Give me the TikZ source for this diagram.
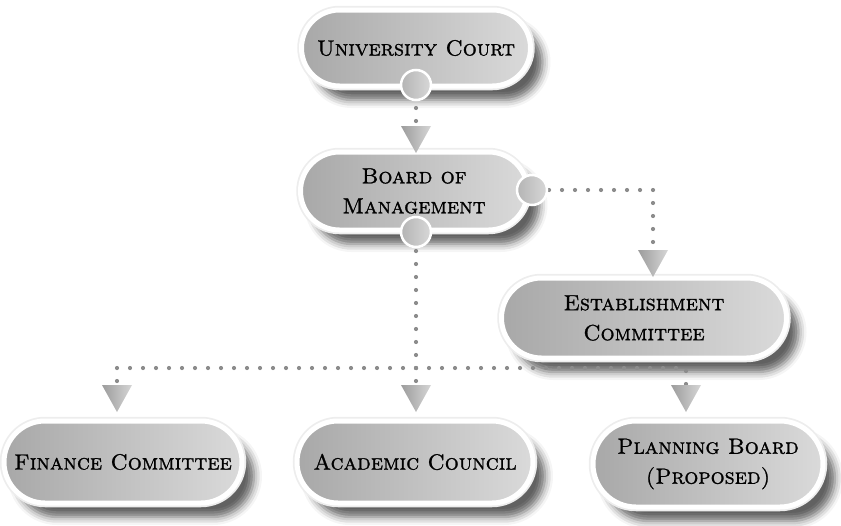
\documentclass[tikz,border=0pt]{standalone}
\usepackage{fontspec}
\newfontfamily\boxfont{lmromancaps10-regular.otf}[RawFeature={embolden=1.1}]
\usetikzlibrary{shapes.misc,shadows.blur}
\definecolor{dotgray}{HTML}{8C8C8C}
\definecolor{pillL}{HTML}{A8A8A8}
\definecolor{pillR}{HTML}{DADADA}
\definecolor{triL}{HTML}{9C9C9C}
\definecolor{triR}{HTML}{D6D6D6}
\definecolor{knobL}{HTML}{B4B4B4}
\definecolor{knobR}{HTML}{D8D8D8}
\begin{document}
\begin{tikzpicture}[x=1pt,y=-1pt,
  pill/.style={rounded rectangle,
    blur shadow={shadow xshift=12pt, shadow yshift=-14pt, shadow blur radius=8pt, shadow opacity=62},
    preaction={draw=black!7, line width=8.5pt},
    draw=white, line width=5pt, left color=pillL, right color=pillR,
    text=black, font=\boxfont\fontsize{22}{30}\selectfont, align=center, inner sep=0pt},
  knob/.style={circle, minimum size=30pt, inner sep=0pt, draw=white, line width=2.5pt,
    left color=knobL, right color=knobR},
  tri/.style={left color=triL, right color=triR},
  dots/.style={draw=dotgray, line width=4.2pt, line cap=round, dash pattern=on 0pt off 13pt}]
\useasboundingbox (0,0) rectangle (841,525);

% boxes
\node[pill, minimum width=229pt, minimum height=76pt] (uc) at (416,48) {University Court};
\node[pill, minimum width=227pt, minimum height=78pt] (bm) at (414,191) {Board of\\Management};
\node[pill, minimum width=285pt, minimum height=80pt] (ec) at (644,318) {Establishment\\Committee};
\node[pill, minimum width=238pt, minimum height=82pt] (fc) at (123,462) {Finance Committee};
\node[pill, minimum width=236pt, minimum height=82pt] (ac) at (415,462) {Academic Council};
\node[pill, minimum width=230pt, minimum height=86pt] (pb) at (708,464) {Planning Board\\(Proposed)};

% knob positions
\coordinate (k1c) at (416,85);
\coordinate (k2c) at (532,190);
\coordinate (k3c) at (416,232);

% corners and arrow-head tops
\coordinate (r1) at (653,190);
\coordinate (jn) at (416,368);
\coordinate (cl) at (117,368);
\coordinate (cr) at (686,368);
\coordinate (t1) at (416,126);
\coordinate (t2) at (653,250);
\coordinate (t3) at (117,385);
\coordinate (t4) at (416,385);
\coordinate (t5) at (686,385);

% dotted connectors
\draw[dots, dash phase=3pt] (k1c) -- (t1);
\draw[dots, dash phase=9pt] (k2c) -- (r1) -- (t2);
\draw[dots, dash phase=7pt] (k3c) -- (jn) -- (t4);
\draw[dots] (jn) -- (cl) -- (t3);
\draw[dots] (jn) -- (cr) -- (t5);

% knobs
\node[knob] (k1) at (k1c) {};
\node[knob] (k2) at (k2c) {};
\node[knob] (k3) at (k3c) {};

% arrow heads
\foreach \t in {t1,t2,t3,t4,t5}{
  \shade[tri] (\t) ++(-15,0) -- ++(30,0) -- ++(-15,27) -- cycle;
}
\end{tikzpicture}
\end{document}
